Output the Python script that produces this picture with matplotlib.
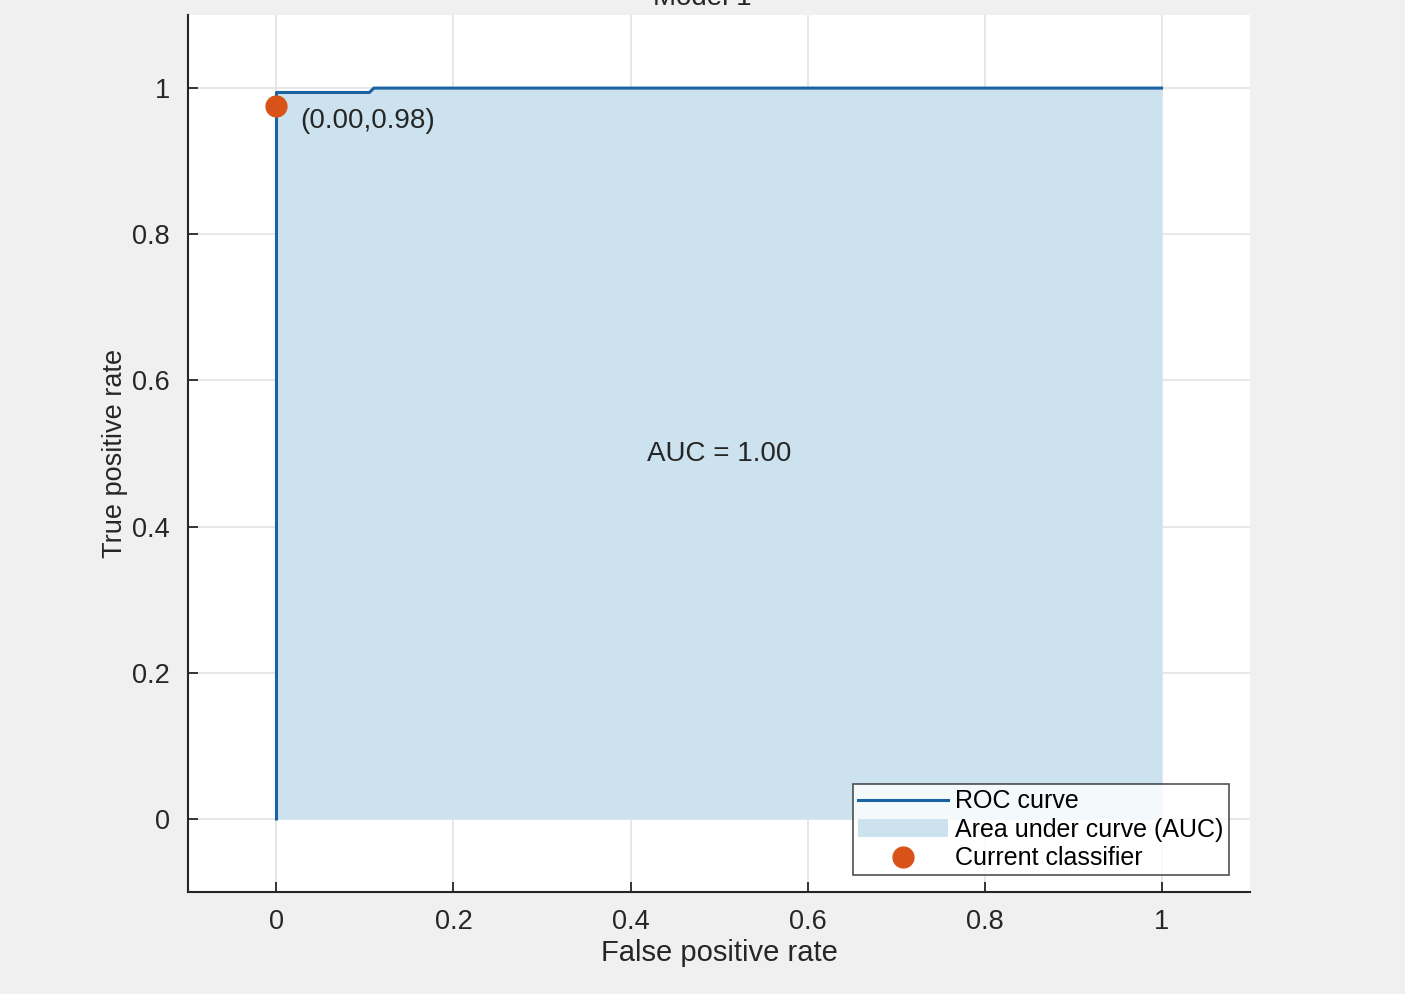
import matplotlib.pyplot as plt

# ROC data
fpr = [0.0, 0.0, 0.105, 0.11, 1.0]
tpr = [0.0, 0.994, 0.994, 1.0, 1.0]
current_point = (0.0, 0.976)
auc_value = 1.00
ticks = [0, 0.2, 0.4, 0.6, 0.8, 1]
tick_labels = ['0', '0.2', '0.4', '0.6', '0.8', '1']

plt.rcParams['font.family'] = ['Liberation Sans', 'DejaVu Sans']

fig = plt.figure(figsize=(14.05, 9.94), dpi=100, facecolor='#f0f0f0')
ax = fig.add_axes([0.1338, 0.1026, 0.7559, 0.8823])
ax.set_facecolor('white')

ax.fill_between(fpr, tpr, 0, color='#cce2ee', linewidth=0, label='Area under curve (AUC)', zorder=2)
ax.plot(fpr, tpr, color='#1b62a0', linewidth=2.2, label='ROC curve', zorder=3)
ax.plot(*current_point, 'o', color='#d95319', markersize=15, label='Current classifier', zorder=4,
        linestyle='none')

ax.text(0.027, 0.955, '(%.2f,%.2f)' % (0.0, 0.98), fontsize=20, color='#262626', va='center', ha='left', zorder=5)
ax.text(0.5, 0.5, 'AUC = %.2f' % auc_value, fontsize=20, color='#262626', ha='center', va='center', zorder=5)

ax.set_xlim(-0.1, 1.1)
ax.set_ylim(-0.1, 1.1)
ax.set_xticks(ticks)
ax.set_xticklabels(tick_labels)
ax.set_yticks(ticks)
ax.set_yticklabels(tick_labels)
ax.tick_params(direction='in', length=7, width=1.3, colors='#262626', labelsize=19.5)
ax.tick_params(axis='x', pad=12)
ax.tick_params(axis='y', pad=13)
ax.grid(True, color='#e3e3e3', linewidth=1.2, zorder=0)
ax.set_axisbelow(True)
for s in ['top', 'right']:
    ax.spines[s].set_visible(False)
for s in ['left', 'bottom']:
    ax.spines[s].set_color('#262626')
    ax.spines[s].set_linewidth(1.5)

ax.set_xlabel('False positive rate', fontsize=21, color='#262626', labelpad=3)
ax.set_ylabel('True positive rate', fontsize=19.5, color='#262626', labelpad=3)

handles, labels = ax.get_legend_handles_labels()
order = [1, 0, 2]
leg = ax.legend([handles[i] for i in order], [labels[i] for i in order], loc='lower right',
                bbox_to_anchor=(0.98, 0.019), borderaxespad=0, fontsize=18, frameon=True,
                fancybox=False, edgecolor='#262626', handlelength=3.6, handletextpad=0.3,
                labelspacing=0.18, borderpad=0.2)
leg.get_frame().set_linewidth(1.2)

fig.text(0.5, 1.002, 'Model 1', fontsize=20, ha='center', va='center', color='#262626')

fig.savefig('out.png', dpi=100, facecolor=fig.get_facecolor())
